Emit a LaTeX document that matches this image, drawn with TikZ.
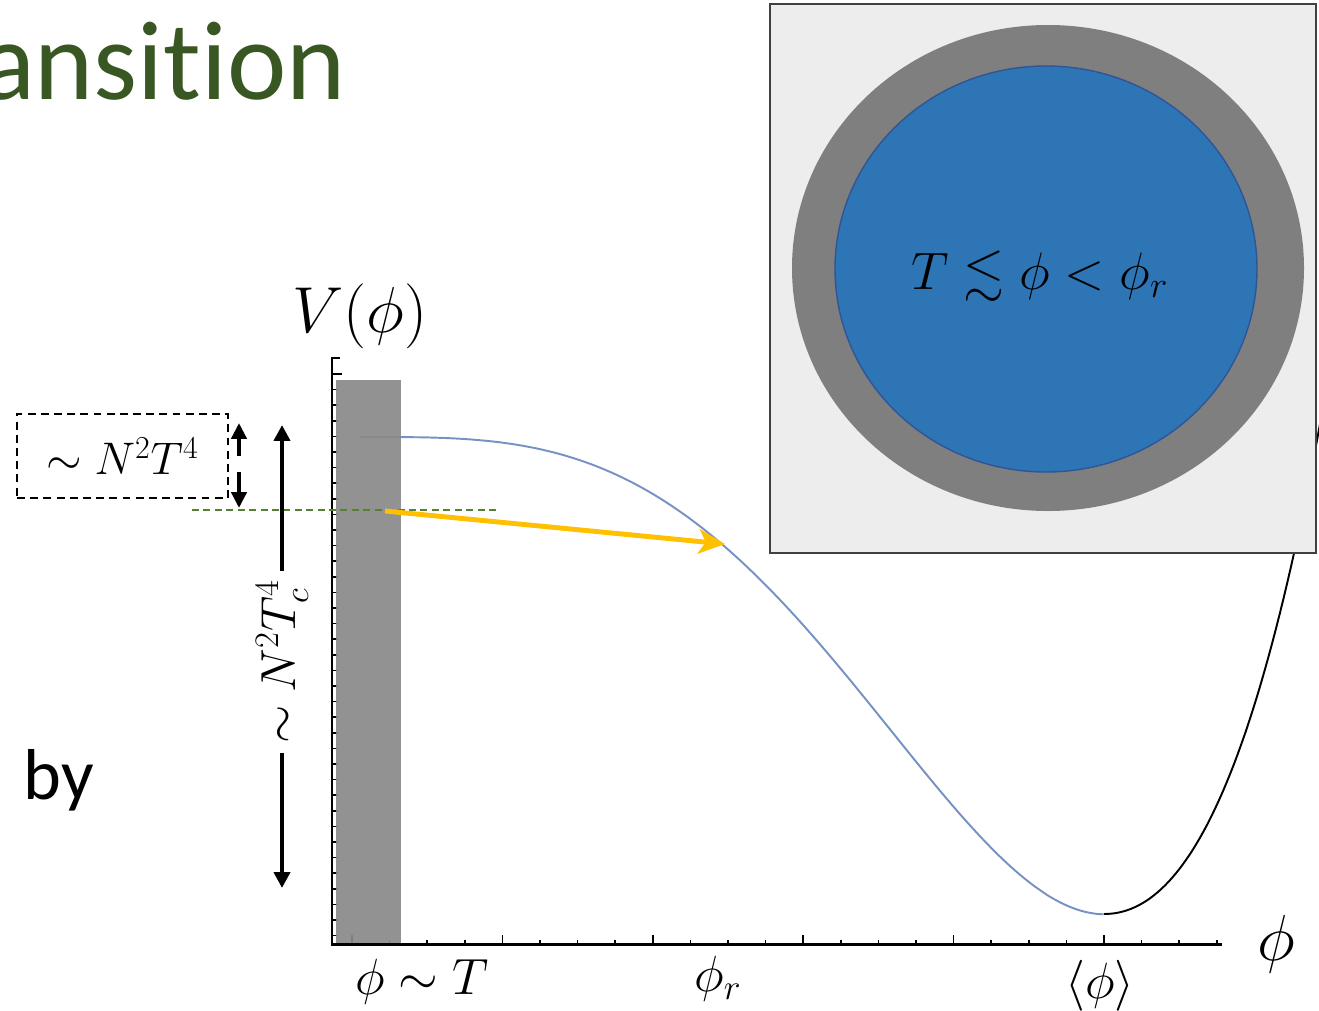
\RequirePackage{fix-cm}
\documentclass[tikz,border=0pt]{standalone}
\usepackage{amssymb}
\usepackage{fontspec}
\newfontfamily\calibri{Carlito}[Ligatures=NoCommon]
\usetikzlibrary{arrows.meta,positioning}
\definecolor{titlegreen}{RGB}{56,87,35}
\definecolor{curveblue}{RGB}{118,146,196}
\definecolor{bargray}{RGB}{137,137,137}
\definecolor{arrowyellow}{RGB}{255,192,0}
\definecolor{lvlgreen}{RGB}{84,130,53}
\definecolor{insetbg}{RGB}{237,237,237}
\definecolor{insetedge}{RGB}{64,64,64}
\definecolor{ringgray}{RGB}{127,127,127}
\definecolor{bubbleblue}{RGB}{46,117,182}
\definecolor{bubbleedge}{RGB}{47,85,151}
\begin{document}
\begin{tikzpicture}[x=0.02cm,y=-0.02cm,
    ax/.style={line width=1.7pt},
    tk/.style={line width=0.9pt},
    mlabel/.style={inner sep=0pt,font=\fontsize{29}{34}\selectfont},
    biglabel/.style={inner sep=0pt,font=\fontsize{37}{42}\selectfont},
    bigarr/.style={line width=2.3pt,-{Triangle[length=9pt,width=9pt]}},
    smallarr/.style={line width=2.6pt,-{Triangle[length=9pt,width=8.5pt]}}]
    \useasboundingbox (0,0) rectangle (1319,1011);
    % slide text cut off at the left
    \node[anchor=base east,inner sep=0pt,text=titlegreen,font=\calibri\fontsize{64}{72}\selectfont] (title) at (346,99) {ansition};
    \node[anchor=base east,inner sep=0pt,font=\calibri\fontsize{41}{48}\selectfont] (body) at (94,799) {s\hskip 12pt by};
    % ticks
    \foreach \i in {0,...,36}
        \draw[tk] (332,{374+15.6*\i}) -- ++(6,0);
    \draw[tk] (332,358) -- ++(8,0);
    \draw[tk] (332,374) -- ++(10,0);
    \foreach \i in {0,...,23} {
        \pgfmathtruncatemacro{\m}{mod(\i,4)}
        \ifnum\m=0
            \draw[tk] ({352+37.6*\i},944) -- ++(0,-9);
        \else
            \draw[tk] ({352+37.6*\i},944) -- ++(0,-4);
        \fi
    }
    % potential, u = phi/<phi>
    \draw[curveblue,line width=1.1pt] plot[domain=0.01:1,samples=120] ({352+752*\x},{437+477*(\x)^4*(1-4*ln(\x))});
    \draw[black,line width=1.1pt] plot[domain=1:1.3,samples=60] ({352+752*\x},{437+477*(\x)^4*(1-4*ln(\x))});
    % thermal bar
    \fill[bargray,opacity=0.92] (336,380) rectangle (401,944);
    % axes
    \draw[ax] (332,357) -- (332,944) -- (1222,944);
    % level line and roll
    \draw[lvlgreen,line width=0.6pt,dash pattern=on 4pt off 2.5pt] (192,510) -- (500,510);
    \coordinate (rollstart) at (385,511);
    \coordinate (rollend) at (725,544);
    \draw[arrowyellow,line width=2.8pt,-{Stealth[length=15pt,width=14pt,inset=4pt]}] (rollstart) -- (rollend);
    % labels
    \node[biglabel] (vlab) at (360,316) {$V(\phi)$};
    \node[biglabel] (philab) at (1276,944) {$\phi$};
    \node[mlabel] (tlab) at (422,982) {$\phi\sim T$};
    \node[mlabel] (rlab) at (718,979) {$\phi_r$};
    \node[mlabel] (vevlab) at (1100,986) {$\langle\phi\rangle$};
    % thermal height
    \node[draw,line width=0.8pt,dash pattern=on 4.5pt off 3pt,minimum width=120pt,minimum height=48pt,font=\fontsize{26}{30}\selectfont] (therm) at (122.5,456) {$\sim N^2T^4$};
    \coordinate (sa) at (239,423);
    \coordinate (sb) at (239,456);
    \coordinate (sc) at (239,472);
    \coordinate (sd) at (239,508);
    \draw[smallarr] (sb) -- (sa);
    \draw[smallarr] (sc) -- (sd);
    % critical height
    \node[rotate=90,inner sep=5pt,font=\fontsize{28}{32}\selectfont] (crit) at (282,662) {$\sim N^2T_c^4$};
    \coordinate (ctop) at (282,425);
    \coordinate (cbot) at (282,888);
    \draw[bigarr] (crit.east) -- (ctop);
    \draw[bigarr] (crit.west) -- (cbot);
    % inset bubble
    \draw[insetedge,line width=1.3pt,fill=insetbg] (770,4) rectangle (1316,553);
    \fill[ringgray] (1048,268) ellipse [x radius=256, y radius=243];
    \draw[bubbleedge,line width=0.8pt,fill=bubbleblue] (1046,269) ellipse [x radius=211, y radius=203];
    \node[font=\fontsize{30}{34}\selectfont,inner sep=0pt] (bubble) at (1040,276) {$T\lesssim\phi<\phi_r$};
\end{tikzpicture}
\end{document}
